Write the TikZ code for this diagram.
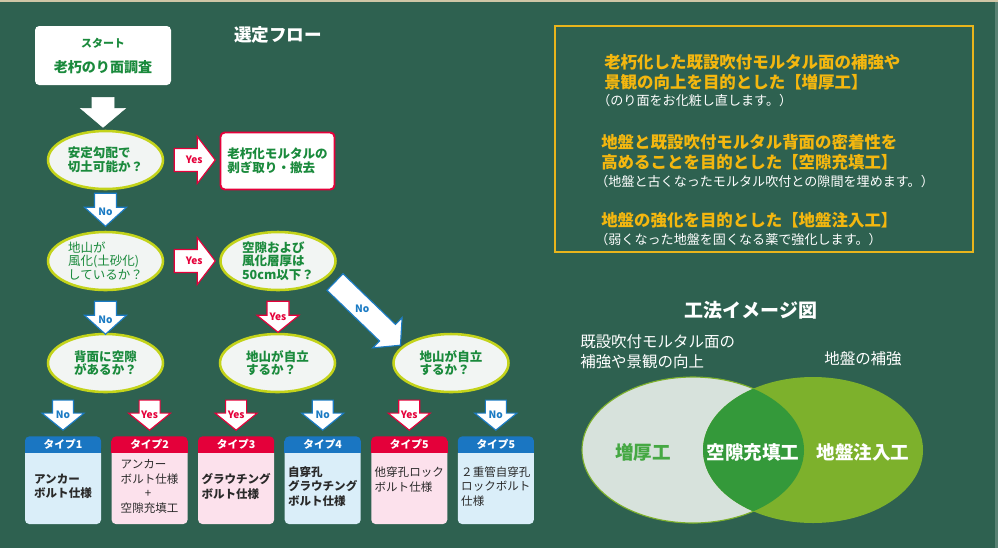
\documentclass[tikz,border=0pt]{standalone}
\usepackage{fontspec}
\setmainfont{Noto Sans CJK JP}
\usetikzlibrary{shapes.geometric, positioning, calc}
\definecolor{boardgreen}{HTML}{2E6150}
\definecolor{topbeige}{HTML}{CFC6A6}
\definecolor{qfill}{HTML}{F2F5F3}
\definecolor{ringlime}{HTML}{C3D31A}
\definecolor{flowgreen}{HTML}{1A8A3C}
\definecolor{yesred}{HTML}{E5003A}
\definecolor{noblue}{HTML}{1B7BC4}
\definecolor{headblue}{HTML}{1A76C2}
\definecolor{headred}{HTML}{E4003A}
\definecolor{bodyblue}{HTML}{DAEEF9}
\definecolor{bodypink}{HTML}{FCE1EC}
\definecolor{typetext}{HTML}{2A2A2A}
\definecolor{notegold}{HTML}{E9B51C}
\definecolor{goldtext}{HTML}{F4B70F}
\definecolor{vennpale}{HTML}{D7E2DC}
\definecolor{vennolive}{HTML}{7DB12C}
\definecolor{venngreen}{HTML}{34993A}
\definecolor{venntext}{HTML}{45A843}

\newcommand\pxu{0.025cm}
\newcommand\titlefont{\fontsize{12.5pt}{14pt}\selectfont}
\newcommand\qfont{\fontsize{8.9pt}{9.6pt}\selectfont}
\newcommand\arrfont{\fontsize{7.2pt}{8pt}\selectfont\bfseries}
\newcommand\typefont{\fontsize{8.2pt}{10.3pt}\selectfont}
\newcommand\headfont{\fontsize{7.6pt}{8pt}\selectfont}
\newcommand\notefont{\fontsize{11.7pt}{14.2pt}\selectfont}
\newcommand\smallnotefont{\fontsize{9.3pt}{10pt}\selectfont}
\newcommand\venntitlefont{\fontsize{13.5pt}{15pt}\selectfont}
\newcommand\venncapfont{\fontsize{11pt}{14.2pt}\selectfont}
\newcommand\venninfont{\fontsize{13.2pt}{15pt}\selectfont}

\tikzset{
    arr len/.store in=\arrlen,
    arr head/.store in=\arrhead,
    arr shaft/.store in=\arrshaft,
    arr wing/.store in=\arrwing,
    arr lab/.store in=\arrlab,
    arr len=33, arr head=19, arr shaft=11, arr wing=21, arr lab=18.5,
    pics/blockarr/.style 2 args={code={
        \draw[#1] (-\arrshaft,0) -- (\arrshaft,0) -- (\arrshaft,\arrlen-\arrhead)
            -- (\arrwing,\arrlen-\arrhead) -- (0,\arrlen) -- (-\arrwing,\arrlen-\arrhead)
            -- (-\arrshaft,\arrlen-\arrhead) -- cycle;
        \node[#1 text] at (0,\arrlab) {#2};
    }}
}

\begin{document}
\begin{tikzpicture}[
    x=\pxu, y=-\pxu,
    qnode/.style={
        ellipse, draw=ringlime, line width=1.8pt,
        fill=qfill,
        minimum width=115*\pxu,
        minimum height=58*\pxu,
        inner sep=0pt,
        align=left,
        text=flowgreen,
        font=\qfont\bfseries
    },
    startbox/.style={
        rectangle, fill=white, rounded corners=3pt,
        minimum width=136*\pxu, minimum height=59*\pxu
    },
    stopbox/.style={
        rectangle, draw=yesred, line width=1.4pt, fill=white,
        rounded corners=3pt,
        minimum width=114*\pxu, minimum height=57*\pxu,
        inner sep=0pt, align=left,
        text=flowgreen, font=\qfont\bfseries
    },
    tbody/.style={
        rectangle, rounded corners=3pt,
        minimum width=76*\pxu, minimum height=75*\pxu,
        inner sep=0pt, align=left,
        text=typetext, font=\typefont
    },
    thead/.style={
        rectangle, rounded corners=3pt,
        minimum width=76*\pxu, minimum height=16*\pxu,
        inner sep=0pt, anchor=south,
        text=white, font=\headfont\bfseries
    },
    noarr/.style={draw=noblue, fill=white, line width=0.8pt},
    noarr text/.style={text=noblue, font=\arrfont},
    yesarr/.style={draw=yesred, fill=white, line width=0.8pt},
    yesarr text/.style={text=yesred, font=\arrfont},
    plainarr/.style={draw=white, fill=white},
    plainarr text/.style={},
    goldnote/.style={inner sep=0pt, anchor=west, align=left, text=goldtext, font=\notefont\bfseries},
    whitenote/.style={inner sep=0pt, anchor=west, align=left, text=white, font=\smallnotefont},
    venncap/.style={inner sep=0pt, align=left, text=white, font=\venncapfont},
    vennin/.style={inner sep=0pt, text=white, font=\venninfont\bfseries}
]

% ==========================================
% BOARD
% ==========================================

\useasboundingbox (0,0) rectangle (998,548);
\fill[boardgreen] (0,0) rectangle (998,548);
\fill[topbeige] (0,0) rectangle (998,2);
\fill[boardgreen!80!white] (995,2) rectangle (998,548);

% ==========================================
% SELECTION FLOW
% ==========================================

\node[text=white, font=\titlefont\bfseries] (flowtitle) at (278,35) {選定フロー};

\node[startbox] (start) at (103,55.5) {};
\node[text=flowgreen, font=\fontsize{7.8pt}{9pt}\selectfont\bfseries] (startsub)
    at ($(start.center)+(0,-12.5)$) {スタート};
\node[text=flowgreen, font=\fontsize{10pt}{12pt}\selectfont\bfseries] (startmain)
    at ($(start.center)+(0,11.5)$) {老朽のり面調査};

\node[qnode] (slope) at (105.5,160) {安定勾配で\\切土可能か？};
\node[stopbox] (strip) at (277.5,161) {老朽化モルタルの\\剥ぎ取り・撤去};

\node[qnode, font=\qfont] (weather) at (105.5,261) {地山が\\風化(土砂化)\\しているか？};
\node[qnode] (gap) at (278,261) {空隙および\\風化層厚は\\50cm以下？};

\node[qnode] (cavity) at (105.5,363) {背面に空隙\\があるか？};
\node[qnode] (standa) at (277.5,363) {地山が自立\\するか？};
\node[qnode] (standb) at (451,363) {地山が自立\\するか？};

% block arrows of the flow
\pic[arr len=30, arr head=19, arr wing=22.5] at ($(start.south)+(0,12)$) {blockarr={plainarr}{}};
\pic[rotate=90, arr len=41, arr head=18, arr shaft=11.5, arr wing=23.5, arr lab=20]
    at ($(slope.east)+(10,0)$) {blockarr={yesarr}{Yes}};
\pic at ($(slope.south)+(0,3)$) {blockarr={noarr}{No}};
\pic[rotate=90, arr len=41, arr head=18, arr shaft=11.5, arr wing=23.5, arr lab=20]
    at ($(weather.east)+(10,0)$) {blockarr={yesarr}{Yes}};
\pic at ($(weather.south)+(0,10)$) {blockarr={noarr}{No}};
\pic[arr len=31, arr head=17, arr lab=16] at ($(gap.south)+(0,10)$) {blockarr={yesarr}{Yes}};
\pic[rotate=46, arr len=91, arr head=18, arr shaft=11.5, arr wing=21, arr lab=38]
    at ($(gap.center)+(57,21)$) {blockarr={noarr}{No}};

% ==========================================
% TYPES
% ==========================================

\node[tbody, fill=bodyblue, font=\typefont\bfseries] (t1) at (63,486.5) {アンカー\\ボルト仕様};
\node[tbody, fill=bodypink, right=0.25cm of t1] (t2) {アンカー\\ボルト仕様\\\hspace*{2.1em}+\\空隙充填工};
\node[tbody, fill=bodypink, font=\typefont\bfseries, right=0.25cm of t2] (t3) {グラウチング\\ボルト仕様};
\node[tbody, fill=bodyblue, font=\typefont\bfseries, right=0.25cm of t3] (t4) {自穿孔\\グラウチング\\ボルト仕様};
\node[tbody, fill=bodypink, right=0.25cm of t4] (t5) {他穿孔ロック\\ボルト仕様\\[0pt]};
\node[tbody, fill=bodyblue, right=0.25cm of t5] (t6) {２重管自穿孔\\ロックボルト\\仕様};

\fill[headblue] ($(t1.north west)+(0,-8)$) rectangle ($(t1.north east)+(0,4)$);
\node[thead, fill=headblue] (h1) at ($(t1.north)+(0,4)$) {タイプ1};
\fill[headred] ($(t2.north west)+(0,-8)$) rectangle ($(t2.north east)+(0,4)$);
\node[thead, fill=headred] (h2) at ($(t2.north)+(0,4)$) {タイプ2};
\fill[headred] ($(t3.north west)+(0,-8)$) rectangle ($(t3.north east)+(0,4)$);
\node[thead, fill=headred] (h3) at ($(t3.north)+(0,4)$) {タイプ3};
\fill[headblue] ($(t4.north west)+(0,-8)$) rectangle ($(t4.north east)+(0,4)$);
\node[thead, fill=headblue] (h4) at ($(t4.north)+(0,4)$) {タイプ4};
\fill[headred] ($(t5.north west)+(0,-8)$) rectangle ($(t5.north east)+(0,4)$);
\node[thead, fill=headred] (h5) at ($(t5.north)+(0,4)$) {タイプ5};
\fill[headblue] ($(t6.north west)+(0,-8)$) rectangle ($(t6.north east)+(0,4)$);
\node[thead, fill=headblue] (h6) at ($(t6.north)+(0,4)$) {タイプ5};

% answers into the types
\pic[arr len=30, arr head=17, arr shaft=10.5, arr lab=15] at ($(h1.north)+(0,-36)$) {blockarr={noarr}{No}};
\pic[arr len=30, arr head=17, arr shaft=10.5, arr lab=15] at ($(h2.north)+(0,-36)$) {blockarr={yesarr}{Yes}};
\pic[arr len=30, arr head=17, arr shaft=10.5, arr lab=15] at ($(h3.north)+(0,-36)$) {blockarr={yesarr}{Yes}};
\pic[arr len=30, arr head=17, arr shaft=10.5, arr lab=15] at ($(h4.north)+(0,-36)$) {blockarr={noarr}{No}};
\pic[arr len=30, arr head=17, arr shaft=10.5, arr lab=15] at ($(h5.north)+(0,-36)$) {blockarr={yesarr}{Yes}};
\pic[arr len=30, arr head=17, arr shaft=10.5, arr lab=15] at ($(h6.north)+(0,-36)$) {blockarr={noarr}{No}};

% ==========================================
% NOTES (TOP RIGHT)
% ==========================================

\node[draw=notegold, line width=1.4pt, minimum width=418*\pxu, minimum height=226*\pxu] (notes) at (764,139) {};

\node[goldnote] (thick) at (604,72) {老朽化した既設吹付モルタル面の補強や\\景観の向上を目的とした【増厚工】};
\node[whitenote] (thicknote) at (597,101) {（のり面をお化粧し直します。）};

\node[goldnote] (fill) at (601,152) {地盤と既設吹付モルタル背面の密着性を\\高めることを目的とした【空隙充填工】};
\node[whitenote] (fillnote) at (595,182) {（地盤と古くなったモルタル吹付との隙間を埋めます。）};

\node[goldnote] (inject) at (601,220) {地盤の強化を目的とした【地盤注入工】};
\node[whitenote] (injectnote) at (595,240) {（弱くなった地盤を固くなる薬で強化します。）};

% ==========================================
% METHOD IMAGE (VENN)
% ==========================================

\node[text=white, font=\venntitlefont\bfseries] (venntitle) at (751,310) {工法イメージ図};

\node[ellipse, draw=vennolive, line width=0.8pt, fill=vennpale, inner sep=0pt,
    minimum width=222*\pxu, minimum height=146*\pxu] (vleft) at (693,450) {};
\node[ellipse, fill=vennolive, inner sep=0pt,
    minimum width=220*\pxu, minimum height=146*\pxu] (vright) at (813,450) {};
\begin{scope}
    \clip (vleft.center) ellipse [x radius=111, y radius=73];
    \fill[venngreen] (vright.center) ellipse [x radius=110, y radius=73];
\end{scope}

\node[venncap, anchor=west] (capleft) at (580,352) {既設吹付モルタル面の\\補強や景観の向上};
\node[venncap] (capright) at (863,359) {地盤の補強};

\node[vennin, text=venntext] (inthick) at ($(vleft.center)+(-50,2)$) {増厚工};
\node[vennin] (infill) at ($(vleft.center)!0.5!(vright.center)+(0,2)$) {空隙充填工};
\node[vennin] (ininject) at ($(vright.center)+(50,2)$) {地盤注入工};

\end{tikzpicture}
\end{document}
